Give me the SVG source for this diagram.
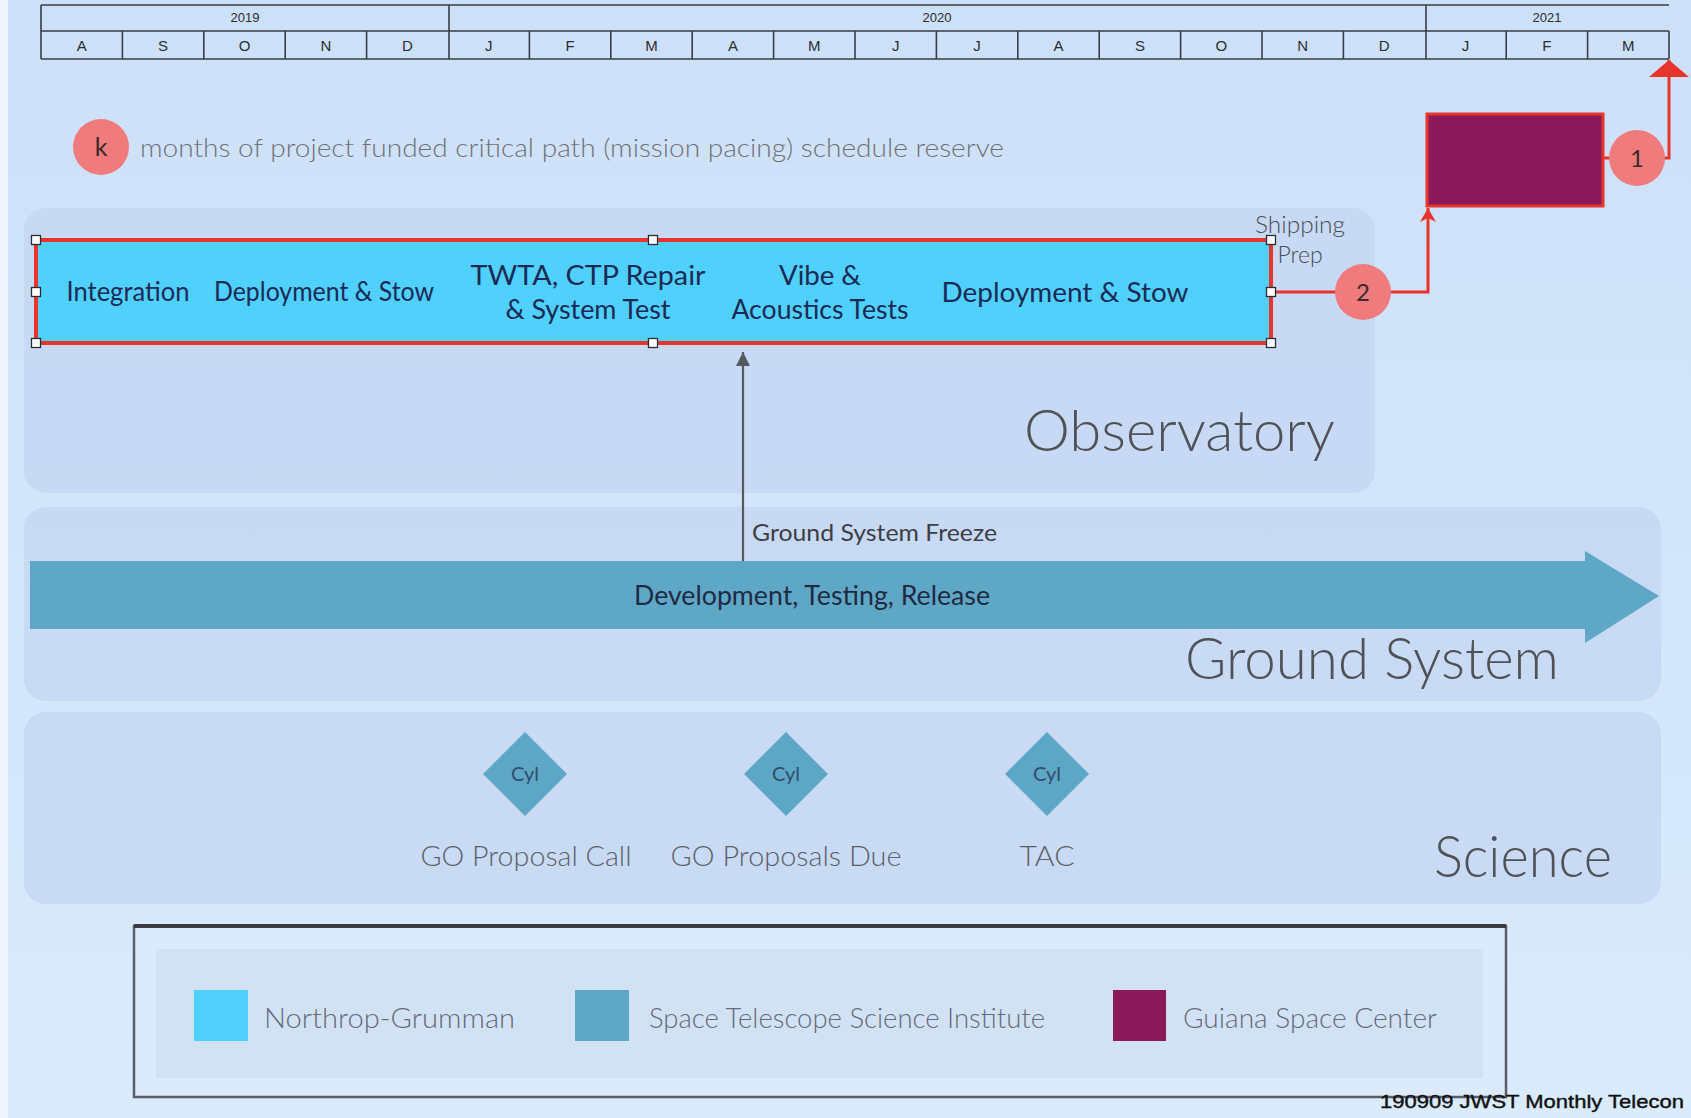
<svg xmlns="http://www.w3.org/2000/svg" width="1691" height="1118" viewBox="0 0 1691 1118">
<defs>
<linearGradient id="bg" x1="0" y1="0" x2="0" y2="1">
<stop offset="0" stop-color="#cde0f9"/>
<stop offset="1" stop-color="#d9ebfc"/>
</linearGradient>
<marker id="arrBig" markerUnits="userSpaceOnUse" markerWidth="18" markerHeight="42" refX="17" refY="21" orient="auto" viewBox="0 0 18 42">
<path d="M0,1 L17,21 L0,41 Z" fill="#e8352b"/>
</marker>
<marker id="arrSmall" markerUnits="userSpaceOnUse" markerWidth="16" markerHeight="16" refX="14" refY="8" orient="auto" viewBox="0 0 16 16">
<path d="M0,0 L14,8 L0,16 L4,8 Z" fill="#e8352b"/>
</marker>
<marker id="arrGray" markerUnits="userSpaceOnUse" markerWidth="16" markerHeight="14" refX="14" refY="7" orient="auto" viewBox="0 0 16 14">
<path d="M0,0 L14,7 L0,14 Z" fill="#555a60"/>
</marker>
</defs>
<style>
.tl{fill:none;stroke:#3a3d44;stroke-width:1.6}
.mo{font-family:"Liberation Sans",Arial,sans-serif;font-size:15px;fill:#2a2d33;text-anchor:middle}
.yr{font-family:"Liberation Sans",Arial,sans-serif;font-size:13px;fill:#2a2d33;text-anchor:middle}
.g{font-family:Lato,"Open Sans",sans-serif}
.lt{font-weight:300}
.panel{fill:#c5d7f2;opacity:0.85}
.inbox{fill:#1b2b55;font-size:26px;text-anchor:middle}
.big{fill:#4f5257;font-size:58px}
.lbl{fill:#5d6068;font-size:28px;text-anchor:middle}
.leg{fill:#666a7a;font-size:27px}
.circ{fill:#f07b7d}
.handle{fill:#ffffff;stroke:#2a2d33;stroke-width:1.3}
.dia{fill:#5ea6c6}
.cyl{fill:#2c4f6b;font-size:20px;text-anchor:middle}
</style>
<rect x="0" y="0" width="1691" height="1118" fill="url(#bg)"/>
<rect x="0" y="0" width="8" height="1118" fill="#eef5fd"/>

<g id="timeline">
<path class="tl" d="M41,5 H1669 M41,31 H1669 M41,59 H1669 M41,5 V59 M1669,31 V59 M449,5 V31 M1426,5 V31"/>
<path class="tl" d="M122.4,31V59 M203.8,31V59 M285.2,31V59 M366.6,31V59 M449,31V59 M529.4,31V59 M610.8,31V59 M692.2,31V59 M773.6,31V59 M855,31V59 M936.4,31V59 M1017.8,31V59 M1099.2,31V59 M1180.6,31V59 M1262,31V59 M1343.4,31V59 M1426,31V59 M1506.2,31V59 M1587.6,31V59"/>
<text class="yr" x="245" y="22">2019</text>
<text class="yr" x="937" y="22">2020</text>
<text class="yr" x="1547" y="22">2021</text>
<text class="mo" x="81.7" y="51">A</text>
<text class="mo" x="163.1" y="51">S</text>
<text class="mo" x="244.5" y="51">O</text>
<text class="mo" x="325.9" y="51">N</text>
<text class="mo" x="407.3" y="51">D</text>
<text class="mo" x="488.7" y="51">J</text>
<text class="mo" x="570.1" y="51">F</text>
<text class="mo" x="651.5" y="51">M</text>
<text class="mo" x="732.9" y="51">A</text>
<text class="mo" x="814.3" y="51">M</text>
<text class="mo" x="895.7" y="51">J</text>
<text class="mo" x="977.1" y="51">J</text>
<text class="mo" x="1058.5" y="51">A</text>
<text class="mo" x="1139.9" y="51">S</text>
<text class="mo" x="1221.3" y="51">O</text>
<text class="mo" x="1302.7" y="51">N</text>
<text class="mo" x="1384.1" y="51">D</text>
<text class="mo" x="1465.5" y="51">J</text>
<text class="mo" x="1546.9" y="51">F</text>
<text class="mo" x="1628.3" y="51">M</text>
</g>

<g id="panel-observatory">
<rect class="panel" x="24" y="208" width="1351" height="285" rx="22"/>
<text class="g lt big" x="1024" y="451" textLength="311" lengthAdjust="spacingAndGlyphs">Observatory</text>
</g>
<g id="panel-ground">
<rect class="panel" x="24" y="507" width="1637" height="194" rx="22"/>
<text class="g lt big" x="1185" y="679" textLength="374" lengthAdjust="spacingAndGlyphs">Ground System</text>
</g>
<g id="panel-science">
<rect class="panel" x="24" y="712" width="1637" height="192" rx="22"/>
<text class="g lt big" x="1434" y="877" textLength="178" lengthAdjust="spacingAndGlyphs">Science</text>
</g>

<g id="reserve-key">
<circle class="circ" cx="101" cy="147" r="28"/>
<text class="g" x="101" y="156" font-size="25" fill="#3a2a2a" text-anchor="middle">k</text>
<text class="g lt" x="140" y="157" font-size="26" fill="#6f7278" textLength="864" lengthAdjust="spacingAndGlyphs">months of project funded critical path (mission pacing) schedule reserve</text>
</g>

<g id="dev-arrow">
<path d="M30,561 H1585 V551 L1659,596 L1585,643 V629 H30 Z" fill="#5ea7c7"/>
<text class="g" x="812" y="605" font-size="26" fill="#1e2b40" text-anchor="middle" textLength="356" lengthAdjust="spacingAndGlyphs">Development, Testing, Release</text>
</g>

<g id="connectors">
<path d="M743,561 V352" fill="none" stroke="#555a60" stroke-width="2.2" marker-end="url(#arrGray)"/>
<path d="M1271,292 H1428 V208" fill="none" stroke="#e8352b" stroke-width="3" marker-end="url(#arrSmall)"/>
<path d="M1604,158 H1669 V60" fill="none" stroke="#e8352b" stroke-width="3" marker-end="url(#arrBig)"/>
</g>
<text class="g" x="752" y="541" font-size="23" fill="#3c3f45" textLength="245" lengthAdjust="spacingAndGlyphs">Ground System Freeze</text>

<g id="observatory-bar">
<rect x="36" y="240" width="1235" height="103" fill="#50d0fc" stroke="#e8352b" stroke-width="4"/>
<text class="g inbox" x="128" y="301" textLength="123" lengthAdjust="spacingAndGlyphs">Integration</text>
<text class="g inbox" x="324" y="301" textLength="220" lengthAdjust="spacingAndGlyphs">Deployment &amp; Stow</text>
<text class="g inbox" x="588" y="285" font-size="28" textLength="235" lengthAdjust="spacingAndGlyphs">TWTA, CTP Repair</text>
<text class="g inbox" x="588" y="319" font-size="28" textLength="165" lengthAdjust="spacingAndGlyphs">&amp; System Test</text>
<text class="g inbox" x="820" y="285" font-size="28" textLength="82" lengthAdjust="spacingAndGlyphs">Vibe &amp;</text>
<text class="g inbox" x="820" y="319" font-size="28" textLength="177" lengthAdjust="spacingAndGlyphs">Acoustics Tests</text>
<text class="g inbox" x="1065" y="302" font-size="28" textLength="247" lengthAdjust="spacingAndGlyphs">Deployment &amp; Stow</text>
<rect class="handle" x="31.5" y="235.5" width="9" height="9"/>
<rect class="handle" x="648.5" y="235.5" width="9" height="9"/>
<rect class="handle" x="1266.5" y="235.5" width="9" height="9"/>
<rect class="handle" x="31.5" y="287.5" width="9" height="9"/>
<rect class="handle" x="1266.5" y="287.5" width="9" height="9"/>
<rect class="handle" x="31.5" y="338.5" width="9" height="9"/>
<rect class="handle" x="648.5" y="338.5" width="9" height="9"/>
<rect class="handle" x="1266.5" y="338.5" width="9" height="9"/>
</g>

<g id="shipping-prep">
<text class="g lt" x="1300" y="233" font-size="23" fill="#4a4d55" text-anchor="middle" textLength="90" lengthAdjust="spacingAndGlyphs">Shipping</text>
<text class="g lt" x="1300" y="263" font-size="23" fill="#4a4d55" text-anchor="middle">Prep</text>
</g>

<g id="reserve-2">
<circle class="circ" cx="1363" cy="292" r="28"/>
<text class="g" x="1363" y="301" font-size="24" fill="#3a2a2a" text-anchor="middle">2</text>
</g>

<g id="launch-box">
<rect x="1427" y="114" width="176" height="92" fill="#8b1a5b" stroke="#e8352b" stroke-width="3"/>
</g>

<g id="reserve-1">
<circle class="circ" cx="1637" cy="158" r="28"/>
<text class="g" x="1637" y="167" font-size="24" fill="#3a2a2a" text-anchor="middle">1</text>
</g>

<g id="ms-go-call">
<path class="dia" d="M525,732 L567,774 L525,816 L483,774 Z"/>
<text class="g cyl" x="525" y="781">Cyl</text>
<text class="g lt lbl" x="526" y="866" textLength="211" lengthAdjust="spacingAndGlyphs">GO Proposal Call</text>
</g>
<g id="ms-go-due">
<path class="dia" d="M786,732 L828,774 L786,816 L744,774 Z"/>
<text class="g cyl" x="786" y="781">Cyl</text>
<text class="g lt lbl" x="786" y="866" textLength="231" lengthAdjust="spacingAndGlyphs">GO Proposals Due</text>
</g>
<g id="ms-tac">
<path class="dia" d="M1047,732 L1089,774 L1047,816 L1005,774 Z"/>
<text class="g cyl" x="1047" y="781">Cyl</text>
<text class="g lt lbl" x="1047" y="866" textLength="55" lengthAdjust="spacingAndGlyphs">TAC</text>
</g>

<g id="legend">
<rect x="134" y="926" width="1372" height="171" fill="#dcebfb" stroke="#5a5d65" stroke-width="2.5"/>
<path d="M134,926 H1506" stroke="#3a3d44" stroke-width="4"/>
<rect x="156" y="949" width="1327" height="129" fill="#d2e2f5"/>
<rect x="194" y="990" width="54" height="51" fill="#50d0fc"/>
<text class="g lt leg" x="264" y="1028" textLength="251" lengthAdjust="spacingAndGlyphs">Northrop-Grumman</text>
<rect x="575" y="990" width="54" height="51" fill="#5ea7c7"/>
<text class="g lt leg" x="649" y="1028" textLength="396" lengthAdjust="spacingAndGlyphs">Space Telescope Science Institute</text>
<rect x="1113" y="990" width="53" height="51" fill="#8b1a5b"/>
<text class="g lt leg" x="1183" y="1028" textLength="254" lengthAdjust="spacingAndGlyphs">Guiana Space Center</text>
</g>

<g id="footer">
<text x="1380" y="1108" font-family="'Liberation Sans',Arial,sans-serif" font-size="19" fill="#111" stroke="#111" stroke-width="0.4" textLength="304" lengthAdjust="spacingAndGlyphs">190909 JWST Monthly Telecon</text>
</g>
</svg>
